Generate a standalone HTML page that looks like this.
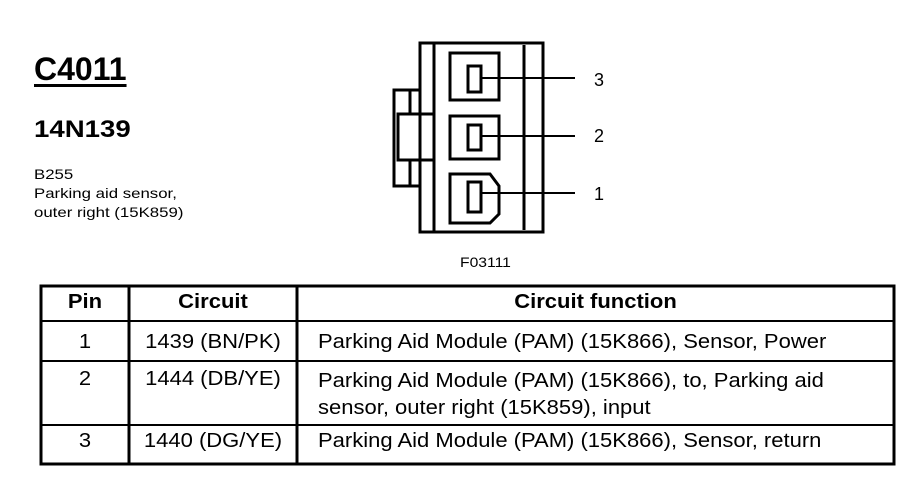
<!DOCTYPE html>
<html><head><style>
body{margin:0;width:908px;height:480px;background:#fff;position:relative;font-family:"Liberation Sans",sans-serif;color:#000;overflow:hidden}
.t{position:absolute;white-space:nowrap}
.w{transform:scaleX(1.1);transform-origin:left top}
.c{transform:scaleX(1.1);transform-origin:center top}
</style></head><body>
<div class="t" style="left:34px;top:51px;font-size:32px;font-weight:bold;text-decoration:underline;text-decoration-thickness:3px;text-underline-offset:4px">C4011</div>
<div class="t w" style="left:34px;top:116px;font-size:24px;font-weight:bold;transform:scaleX(1.15)">14N139</div>
<div class="t w" style="left:34px;top:165px;font-size:14px;line-height:19px;transform:scaleX(1.2)">B255<br>Parking aid sensor,<br>outer right (15K859)</div>
<svg width="908" height="480" style="position:absolute;left:0;top:0" fill="none" stroke="#000" stroke-width="3">
<rect x="420" y="43" width="123" height="189"/>
<line x1="434" y1="43" x2="434" y2="232"/>
<line x1="524" y1="45" x2="524" y2="230"/>
<path d="M420 80 L420 90 L394 90 L394 186 L420 186 L420 198"/>
<rect x="398" y="114" width="36" height="46"/>
<line x1="410" y1="90" x2="410" y2="114"/><line x1="410" y1="160" x2="410" y2="186"/>
<path d="M450 53 L499 53 L499 100 L450 100 Z"/>
<rect x="468" y="66" width="13" height="26"/>
<rect x="450" y="116" width="49" height="43"/>
<rect x="468" y="125" width="13" height="25"/>
<path d="M450 174 L490 174 L499 186 L499 214 L490 223 L450 223 Z"/>
<rect x="468" y="182" width="13" height="30"/>
<g stroke-width="2"><line x1="481" y1="78" x2="575" y2="78"/><line x1="481" y1="136" x2="575" y2="136"/><line x1="481" y1="193" x2="575" y2="193"/></g>
<rect x="41" y="286" width="853" height="178"/>
<line x1="129" y1="286" x2="129" y2="464"/>
<line x1="297" y1="286" x2="297" y2="464"/>
<line x1="41" y1="321" x2="894" y2="321" stroke-width="2"/>
<line x1="41" y1="361" x2="894" y2="361" stroke-width="2"/>
<line x1="41" y1="425" x2="894" y2="425" stroke-width="2"/>
</svg>
<div class="t" style="left:594px;top:70px;font-size:18px">3</div>
<div class="t" style="left:594px;top:126px;font-size:18px">2</div>
<div class="t" style="left:594px;top:184px;font-size:18px">1</div>
<div class="t w" style="left:460px;top:254px;font-size:14px;transform:scaleX(1.12)">F03111</div>
<div class="t c" style="left:41px;width:88px;text-align:center;top:291px;font-size:20px;font-weight:bold">Pin</div>
<div class="t c" style="left:129px;width:168px;text-align:center;top:291px;font-size:20px;font-weight:bold">Circuit</div>
<div class="t c" style="left:297px;width:597px;text-align:center;top:291px;font-size:20px;font-weight:bold">Circuit function</div>
<div class="t c" style="left:41px;width:88px;text-align:center;top:331px;font-size:20px">1</div>
<div class="t c" style="left:129px;width:168px;text-align:center;top:331px;font-size:20px">1439 (BN/PK)</div>
<div class="t w" style="left:318px;top:331px;font-size:20px">Parking Aid Module (PAM) (15K866), Sensor, Power</div>
<div class="t c" style="left:41px;width:88px;text-align:center;top:368px;font-size:20px">2</div>
<div class="t c" style="left:129px;width:168px;text-align:center;top:368px;font-size:20px">1444 (DB/YE)</div>
<div class="t w" style="left:318px;top:368px;font-size:20px;line-height:27px">Parking Aid Module (PAM) (15K866), to, Parking aid<br>sensor, outer right (15K859), input</div>
<div class="t c" style="left:41px;width:88px;text-align:center;top:430px;font-size:20px">3</div>
<div class="t c" style="left:129px;width:168px;text-align:center;top:430px;font-size:20px">1440 (DG/YE)</div>
<div class="t w" style="left:318px;top:430px;font-size:20px">Parking Aid Module (PAM) (15K866), Sensor, return</div>
</body></html>
